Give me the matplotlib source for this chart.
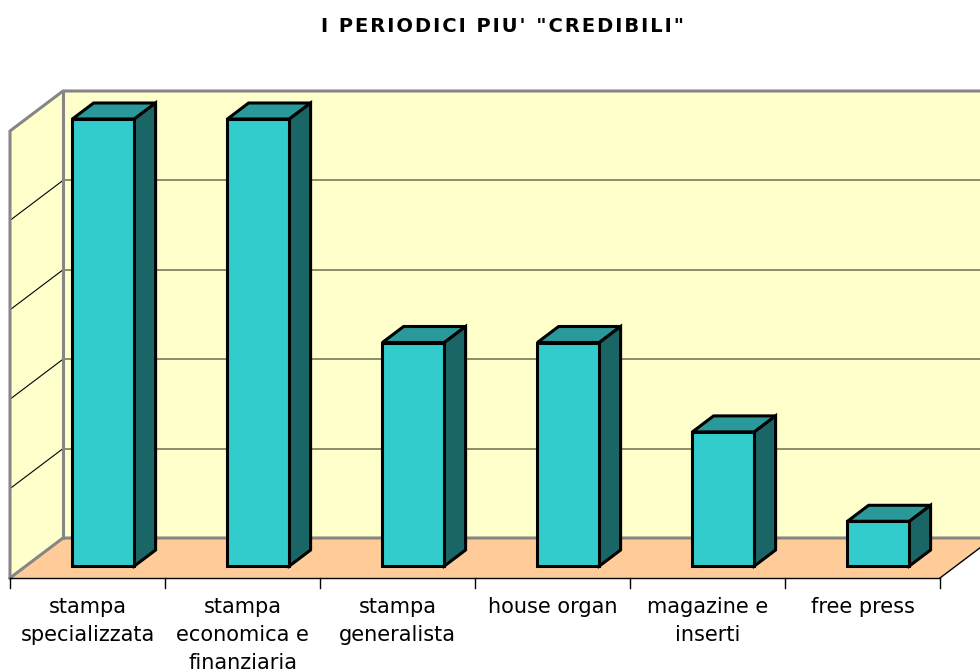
import numpy as np
import matplotlib
matplotlib.use('Agg')
import matplotlib.pyplot as plt

title = 'I PERIODICI PIU\' "CREDIBILI"'
categorie = ['stampa\nspecializzata', 'stampa\neconomica e\nfinanziaria', 'stampa\ngeneralista',
             'house organ', 'magazine e\ninserti', 'free press']
valori = [10, 10, 5, 5, 3, 1]
griglia = [2, 4, 6, 8]
ymax = 10

# scala: 155 px per categoria, 44.7 px per unita
sx = 155.0
sy = 44.7
dx = 53 / sx   # profondita del grafico
dy = 40 / sy
largh = 0.4

fig = plt.figure(figsize=(9.8, 6.71), dpi=100)
ax = fig.add_axes([0, 0, 1, 1])
ax.set_xlim(-10 / sx, 970 / sx)
ax.set_ylim(-93 / sy, 578 / sy)
ax.axis('off')

n = len(categorie)
grigio = '#868686'

# pareti e pavimento
ax.fill([0, dx, dx, 0], [0, dy, ymax + dy, ymax], color='#FFFFCC', lw=0)
ax.fill([dx, n + dx, n + dx, dx], [dy, dy, ymax + dy, ymax + dy], color='#FFFFCC', lw=0)
ax.fill([0, n, n + dx, dx], [0, 0, dy, dy], color='#FFCC99', lw=0)

# griglia
for g in griglia:
    ax.plot([dx, n + dx], [g + dy, g + dy], color='#6E6E50', lw=1.1, zorder=2)
    ax.plot([0, dx], [g, g + dy], color='black', lw=0.8, zorder=2)

# bordi grigi
ax.plot([0, 0, dx, n + dx], [0, ymax, ymax + dy, ymax + dy], color=grigio, lw=2.2, zorder=3,
        solid_joinstyle='miter')
ax.plot([0, dx, n + dx], [0, dy, dy], color=grigio, lw=2.2, zorder=3)
ax.plot([dx, dx], [dy, ymax + dy], color=grigio, lw=2.2, zorder=3)

# asse x
ax.plot([0, n], [0, 0], color='black', lw=1, zorder=4)
ax.plot([n, n + dx], [0, dy], color='black', lw=1, zorder=4)
for i in range(n + 1):
    ax.plot([i, i], [0, -10 / sy], color='black', lw=1, zorder=4)

# barre
f0 = 0.3   # posizione della faccia anteriore nella profondita
f1 = 0.7
for i, v in enumerate(valori):
    x0 = i + 0.5 - largh / 2 + dx * f0
    x1 = x0 + largh
    y0 = dy * f0
    ox = dx * (f1 - f0)
    oy = dy * (f1 - f0)
    ax.bar(x0, v, largh, bottom=y0, align='edge', color='#33CCCC', edgecolor='black', lw=2.2, zorder=7)
    ax.fill([x0, x1, x1 + ox, x0 + ox], [y0 + v, y0 + v, y0 + v + oy, y0 + v + oy],
            facecolor='#299999', edgecolor='black', lw=2.2, zorder=6, joinstyle='miter')
    ax.fill([x1, x1 + ox, x1 + ox, x1], [y0, y0 + oy, y0 + v + oy, y0 + v],
            facecolor='#1A6666', edgecolor='black', lw=2.2, zorder=6, joinstyle='miter')

for i, c in enumerate(categorie):
    ax.text(i + 0.5, -19 / sy, c, ha='center', va='top', fontsize=15, color='black',
            family='DejaVu Sans', linespacing=1.5, zorder=8)

# titolo spaziato con hair space come nell'originale
ax.text(492 / sx, 551 / sy, '\u200a'.join(title), ha='center', va='center', fontsize=14,
        fontweight='bold', color='black', family='DejaVu Sans')

fig.savefig('out.png', dpi=100)
